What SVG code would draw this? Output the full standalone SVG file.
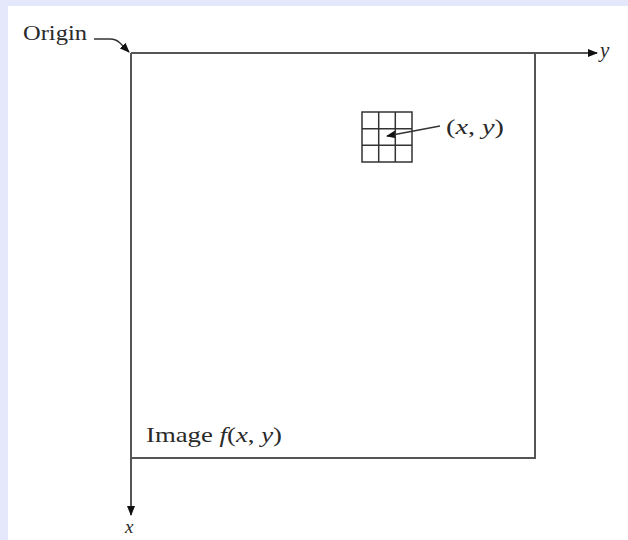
<svg xmlns="http://www.w3.org/2000/svg" width="628" height="540" viewBox="0 0 628 540">
<style>
.ln{stroke:#555;stroke-width:2;fill:none}
.gr{stroke:#333;stroke-width:1.5;fill:none}
.t{font-family:"Liberation Serif",serif;fill:#2a2a2a}
.i{font-style:italic}
</style>
<defs>
<marker id="ah" markerWidth="10" markerHeight="8" refX="9" refY="4" orient="auto" markerUnits="userSpaceOnUse">
<path d="M0,0 L10,4 L0,8 Z" fill="#111"/>
</marker>
</defs>
<rect x="0" y="0" width="628" height="540" fill="#e4e8fa"/>
<rect x="8" y="6" width="620" height="534" fill="#ffffff"/>
<g id="connectors">
<line class="ln" x1="131" y1="53" x2="597" y2="53" marker-end="url(#ah)"/>
<line class="ln" x1="131" y1="53" x2="131" y2="515" marker-end="url(#ah)"/>
<path d="M94,39 L110,39 Q116,39 120,43 L129,52" stroke="#333" stroke-width="1.4" fill="none" marker-end="url(#ah)"/>
<line x1="440" y1="126" x2="387" y2="136" stroke="#333" stroke-width="1.4" marker-end="url(#ah)"/>
</g>
<g id="image">
<path class="ln" d="M131,53 L535,53 L535,458 L131,458"/>
<text class="t" x="146" y="442" font-size="22" textLength="136" lengthAdjust="spacingAndGlyphs">Image <tspan class="i">f</tspan>(<tspan class="i">x</tspan>, <tspan class="i">y</tspan>)</text>
</g>
<g id="grid">
<rect class="gr" x="362" y="112" width="50" height="50"/>
<line class="gr" x1="378.7" y1="112" x2="378.7" y2="162"/>
<line class="gr" x1="395.3" y1="112" x2="395.3" y2="162"/>
<line class="gr" x1="362" y1="128.7" x2="412" y2="128.7"/>
<line class="gr" x1="362" y1="145.3" x2="412" y2="145.3"/>
</g>
<g id="labels">
<text class="t" x="23" y="40" font-size="22" textLength="64" lengthAdjust="spacingAndGlyphs">Origin</text>
<text class="t" x="446" y="134" font-size="22" textLength="58" lengthAdjust="spacingAndGlyphs">(<tspan class="i">x</tspan>, <tspan class="i">y</tspan>)</text>
<text class="t i" x="600" y="57" font-size="21">y</text>
<text class="t i" x="125" y="533" font-size="19">x</text>
</g>
</svg>
